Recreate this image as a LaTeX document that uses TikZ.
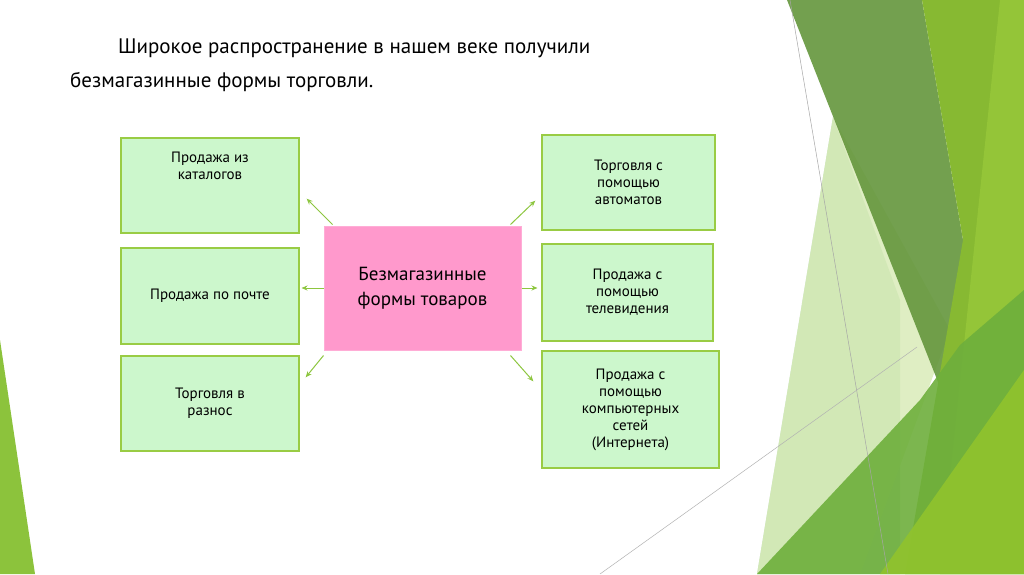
\documentclass[tikz,border=0pt]{standalone}
\usepackage{fontspec}
\setmainfont{PT Sans}
\usetikzlibrary{calc,arrows.meta}
\definecolor{bfill}{HTML}{CCF7CC}
\definecolor{bdraw}{HTML}{99CC44}
\definecolor{pinkf}{HTML}{FF99CC}
\definecolor{arr}{HTML}{8DC63F}
\begin{document}
\begin{tikzpicture}[x=1pt,y=-1pt,
  box/.style={draw=bdraw,line width=1.4pt,fill=bfill,align=center,font=\fontsize{15}{17}\selectfont,inner sep=0pt},
  ar/.style={draw=arr,line width=1pt,-{Stealth[length=6pt,width=5pt]}}]
\useasboundingbox (0,0) rectangle (1024,574);
\fill[white] (0,0) rectangle (1024,574);
% decoration
\fill[green!50!black!40!white,opacity=0.6] (833,117) -- (757,574) -- (900,574) -- (900,300) -- cycle;
\fill[color={rgb,255:red,215;green,234;blue,180},opacity=0.8] (833,117) -- (950,330) -- (860,574) -- (757,574) -- cycle;
\fill[color={rgb,255:red,100;green,150;blue,60},opacity=0.9] (787,0) -- (922,0) -- (963,240) -- (965,440) -- (940,387) -- cycle;
\fill[color={rgb,255:red,135;green,185;blue,50}] (922,0) -- (1024,0) -- (1024,574) -- (905,574) -- (963,240) -- cycle;
\fill[color={rgb,255:red,152;green,200;blue,58},opacity=0.8] (1000,0) -- (1024,0) -- (1024,574) -- (940,574) -- cycle;
\fill[color={rgb,255:red,110;green,175;blue,60},opacity=0.9] (757,574) -- (920,400) -- (960,345) -- (1024,290) -- (1024,574) -- cycle;
\fill[color={rgb,255:red,145;green,195;blue,45},opacity=0.9] (880,574) -- (1024,370) -- (1024,574) -- cycle;
\fill[color={rgb,255:red,140;green,195;blue,60}] (0,340) -- (35,574) -- (0,574) -- cycle;
\draw[gray!70,line width=0.5pt] (790,0) -- (888,574);
\draw[gray!60,line width=0.5pt] (600,574) -- (917,347);
% title
\node[anchor=west,font=\fontsize{21}{25}\selectfont,inner sep=0pt] (t1) at (118,48) {Широкое распространение в нашем веке получили};
\node[anchor=west,font=\fontsize{21}{25}\selectfont,inner sep=0pt] (t2) at (70,82) {безмагазинные формы торговли.};
% boxes
\node[box,minimum width=178pt,minimum height=95pt] (l1) at (210,185.5) {Продажа из\\каталогов\\[22pt]};
\node[box,minimum width=178pt,minimum height=96pt] (l2) at (210,296) {Продажа по почте};
\node[box,minimum width=178pt,minimum height=95pt] (l3) at (210,403.5) {Торговля в\\разнос};
\node[draw=pinkf!80!white,fill=pinkf,line width=1pt,minimum width=197pt,minimum height=124pt,align=center,font=\fontsize{19}{25}\selectfont,inner sep=0pt] (c) at (422.5,288) {Безмагазинные\\формы товаров};
\node[box,minimum width=173pt,minimum height=95pt] (r1) at (628.5,182.5) {Торговля с\\помощью\\автоматов};
\node[box,minimum width=171pt,minimum height=97pt] (r2) at (627.5,292.5) {Продажа с\\помощью\\телевидения};
\node[box,minimum width=177pt,minimum height=117pt] (r3) at (630.5,409.5) {Продажа с\\помощью\\компьютерных\\сетей\\(Интернета)};
% arrows
\draw[ar] ($(c.north west)+(9,-1)$) -- ($(l1.south east)+(7,-35)$);
\draw[ar] (c.west) -- ($(c.west)+(-22,0)$);
\draw[ar] ($(c.south west)+(0,5)$) -- ($(l3.north east)+(6,22)$);
\draw[ar] ($(c.north east)+(-11,-1)$) -- ($(r1.south west)+(-6,-30)$);
\draw[ar] (c.east) -- ($(c.east)+(16,0)$);
\draw[ar] ($(c.south east)+(-11,5)$) -- ($(r3.north west)+(-8,31)$);
\end{tikzpicture}
\end{document}
